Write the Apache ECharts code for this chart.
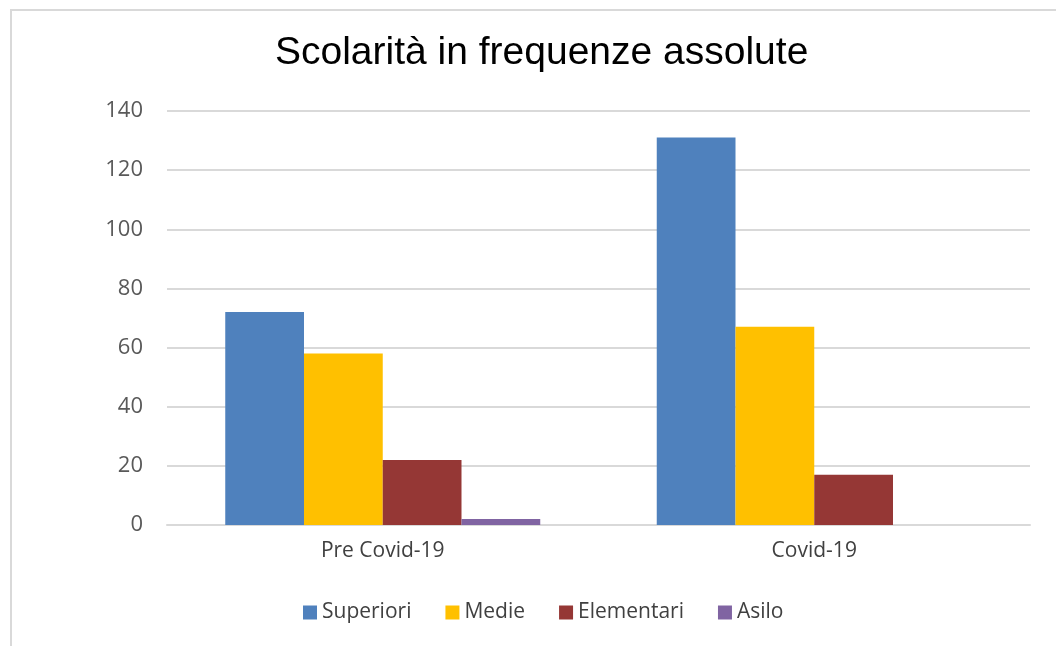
<!DOCTYPE html>
<html>
<head>
<meta charset="utf-8">
<script src="https://cdn.jsdelivr.net/npm/echarts@6/dist/echarts.min.js"></script>
<style>
  html, body { margin: 0; padding: 0; background: #fff; }
  #chart { width: 1056px; height: 646px; }
</style>
</head>
<body>
<div id="chart"></div>
<script>
// Periods on the category axis
const categories = ['Pre Covid-19', 'Covid-19'];

// School level counts per period
const superiori = [72, 131];
const medie = [58, 67];
const elementari = [22, 17];
const asilo = [2, 0];

const seriesNames = ['Superiori', 'Medie', 'Elementari', 'Asilo'];
const seriesValues = [superiori, medie, elementari, asilo];
const colors = ['#4F81BD', '#FFC000', '#953735', '#8064A2'];

const labelFont = '"Open Sans", "Liberation Sans", sans-serif';

const chart = echarts.init(document.getElementById('chart'), null, { renderer: 'canvas' });

chart.setOption({
  animation: false,
  backgroundColor: '#ffffff',
  title: {
    text: 'Scolarità in frequenze assolute',
    left: 270,
    top: 29,
    textStyle: {
      fontFamily: '"Liberation Sans", Arial, sans-serif',
      fontWeight: 'normal',
      fontSize: 39,
      color: '#000000'
    }
  },
  graphic: [{
    type: 'rect',
    shape: { x: 11, y: 10, width: 1100, height: 700 },
    style: { fill: 'none', stroke: '#d9d9d9', lineWidth: 2 },
    silent: true
  }],
  legend: {
    data: seriesNames,
    bottom: 23,
    left: 303,
    padding: 0,
    itemWidth: 14,
    itemHeight: 14,
    itemGap: 34,
    icon: 'rect',
    textStyle: { fontFamily: labelFont, fontSize: 21, color: '#404040', padding: [0, 0, 0, 0] }
  },
  grid: { left: 167, right: 26, top: 111, bottom: 121 },
  xAxis: {
    type: 'category',
    data: categories,
    axisLine: { show: true, lineStyle: { color: '#d9d9d9', width: 2 } },
    axisTick: { show: false },
    axisLabel: { fontFamily: labelFont, fontSize: 21, color: '#404040', margin: 16 }
  },
  yAxis: {
    type: 'value',
    min: 0,
    max: 140,
    interval: 20,
    axisLine: { show: false },
    axisTick: { show: false },
    splitLine: { lineStyle: { color: '#d9d9d9', width: 2 } },
    axisLabel: { fontFamily: labelFont, fontSize: 22, color: '#595959', margin: 24 }
  },
  series: seriesNames.map((name, i) => ({
    name: name,
    type: 'bar',
    data: seriesValues[i],
    barGap: '0%',
    barCategoryGap: '27%',
    itemStyle: { color: colors[i] }
  }))
});
</script>
</body>
</html>
